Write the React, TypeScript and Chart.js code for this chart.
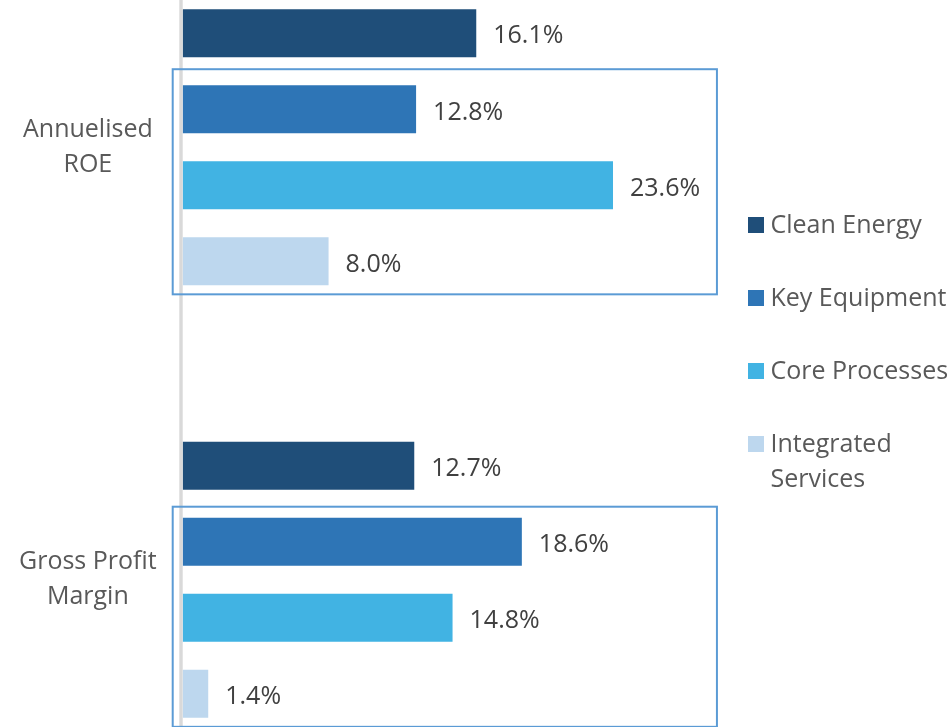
import React, { useEffect, useRef } from 'react';
import { Chart, registerables } from 'chart.js';

Chart.register(...registerables);

// ---- data ----
const categories: string[][] = [['Annuelised', 'ROE'], ['Gross Profit', 'Margin']];
const seriesNames: string[] = ['Clean Energy', 'Key Equipment', 'Core Processes', 'Integrated Services'];
const cleanEnergy: number[] = [16.1, 12.7];
const keyEquipment: number[] = [12.8, 18.6];
const coreProcesses: number[] = [23.6, 14.8];
const integratedServices: number[] = [8.0, 1.4];
const legendLines: string[][] = [['Clean Energy'], ['Key Equipment'], ['Core Processes'], ['Integrated', 'Services']];

// ---- styles ----
const seriesColors = ['#1F4E79', '#2E75B6', '#41B3E3', '#BDD7EE'];
const FONT = '"Open Sans", "DejaVu Sans", sans-serif';
const framePadTop = [16, 11];
const framePadBottom = [9, 9];
const frameRightValue = 29.3;

const axisLine = {
  id: 'axisLine',
  beforeDatasetsDraw(chart: any) {
    const { ctx, chartArea } = chart;
    ctx.save();
    ctx.strokeStyle = '#D9D9D9';
    ctx.lineWidth = 3.4;
    ctx.beginPath();
    ctx.moveTo(chartArea.left - 1.7, chartArea.top);
    ctx.lineTo(chartArea.left - 1.7, chartArea.bottom);
    ctx.stroke();
    ctx.restore();
  },
};

const valueLabels = {
  id: 'valueLabels',
  afterDatasetsDraw(chart: any) {
    const ctx = chart.ctx;
    ctx.save();
    ctx.font = `25px ${FONT}`;
    ctx.fillStyle = '#404040';
    ctx.textAlign = 'left';
    ctx.textBaseline = 'alphabetic';
    chart.data.datasets.forEach((ds: any, di: number) => {
      const meta = chart.getDatasetMeta(di);
      meta.data.forEach((el: any, i: number) => {
        ctx.fillText(Number(ds.data[i]).toFixed(1) + '%', el.x + 17, el.y + 10.3);
      });
    });
    ctx.restore();
  },
};

const groupFrames = {
  id: 'groupFrames',
  afterDatasetsDraw(chart: any) {
    const { ctx, chartArea, scales } = chart;
    const first = chart.getDatasetMeta(1);
    const last = chart.getDatasetMeta(3);
    ctx.save();
    ctx.strokeStyle = '#5B9BD5';
    ctx.lineWidth = 2;
    first.data.forEach((a: any, i: number) => {
      const b = last.data[i];
      const top = a.y - a.height / 2 - framePadTop[i];
      const bottom = b.y + b.height / 2 + framePadBottom[i];
      const left = chartArea.left - 10;
      const right = scales.x.getPixelForValue(frameRightValue);
      ctx.strokeRect(left, top, right - left, bottom - top);
    });
    ctx.restore();
  },
};

export default function App() {
  const ref = useRef<HTMLCanvasElement | null>(null);

  useEffect(() => {
    if (!ref.current) return;
    const values = [cleanEnergy, keyEquipment, coreProcesses, integratedServices];
    const chart = new Chart(ref.current, {
      type: 'bar',
      data: {
        labels: categories as any,
        datasets: seriesNames.map((name, i) => ({
          label: name,
          data: values[i],
          backgroundColor: seriesColors[i],
          borderWidth: 0,
          categoryPercentage: 0.7033,
          barPercentage: 0.6316,
        })),
      },
      options: {
        indexAxis: 'y',
        responsive: false,
        animation: false,
        devicePixelRatio: 1,
        layout: { padding: { top: 80, bottom: 80, left: 0, right: 222.3 } },
        plugins: {
          legend: { display: false },
          tooltip: { enabled: false },
        },
        scales: {
          x: {
            display: false,
            min: 0,
            max: 30,
          },
          y: {
            grid: { display: false, drawTicks: false },
            border: { display: false },
            ticks: {
              crossAlign: 'center',
              padding: 26,
              color: '#595959',
              font: { family: FONT, size: 25, lineHeight: 1.4 },
            },
            afterFit(scale: any) {
              scale.width = 182.7;
            },
          },
        },
      } as any,
      plugins: [axisLine, valueLabels, groupFrames],
    });
    return () => chart.destroy();
  }, []);

  return (
    <div
      style={{
        position: 'absolute',
        left: 0,
        top: 0,
        width: 952,
        height: 727,
        overflow: 'hidden',
        background: '#ffffff',
        fontFamily: FONT,
      }}
    >
      <canvas
        ref={ref}
        width={952}
        height={1025}
        style={{ position: 'absolute', left: 0, top: -149, width: 952, height: 1025 }}
      />
      {legendLines.map((lines, i) => (
        <div
          key={i}
          style={{
            position: 'absolute',
            left: 747.5,
            top: 206 + 73 * i,
            display: 'flex',
            alignItems: 'flex-start',
            whiteSpace: 'nowrap',
          }}
        >
          <div
            style={{
              width: 16,
              height: 16,
              marginTop: 10.7,
              marginRight: 7,
              background: seriesColors[i],
              flex: '0 0 auto',
            }}
          />
          <div style={{ fontSize: 25, lineHeight: '35px', color: '#595959' }}>
            {lines.map((l, j) => (
              <div key={j}>{l}</div>
            ))}
          </div>
        </div>
      ))}
    </div>
  );
}
